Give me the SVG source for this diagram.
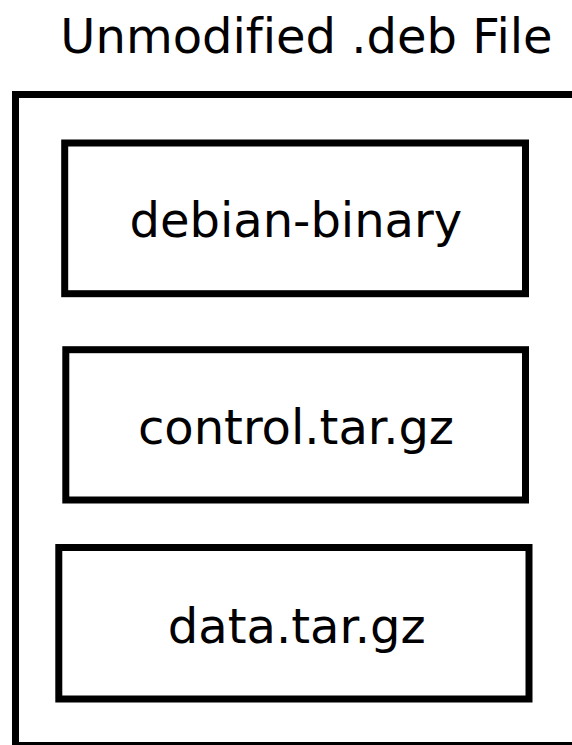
<svg xmlns="http://www.w3.org/2000/svg" width="572" height="745" viewBox="0 0 572 745">
<style>
.box{fill:#fff;stroke:#000;stroke-width:7}
.lbl{font-family:"DejaVu Sans",sans-serif;font-size:48px;fill:#000;text-anchor:middle;font-variant-ligatures:none}
</style>
<rect width="572" height="745" fill="#fff"/>
<g id="title"><text class="lbl" x="306.5" y="52.7">Unmodified .deb File</text></g>
<g id="outer"><rect class="box" x="15.5" y="94.5" width="620" height="651"/></g>
<g id="debian-binary"><rect class="box" x="64.7" y="143" width="460.8" height="150.7"/><text class="lbl" x="295.8" y="236.7">debian-binary</text></g>
<g id="control"><rect class="box" x="65.8" y="349.7" width="459.7" height="150.3"/><text class="lbl" x="296" y="443.5">control.tar.gz</text></g>
<g id="data"><rect class="box" x="58.8" y="547.5" width="470.2" height="151.5"/><text class="lbl" x="296.7" y="642.7">data.tar.gz</text></g>
<g id="connectors"></g>
</svg>
